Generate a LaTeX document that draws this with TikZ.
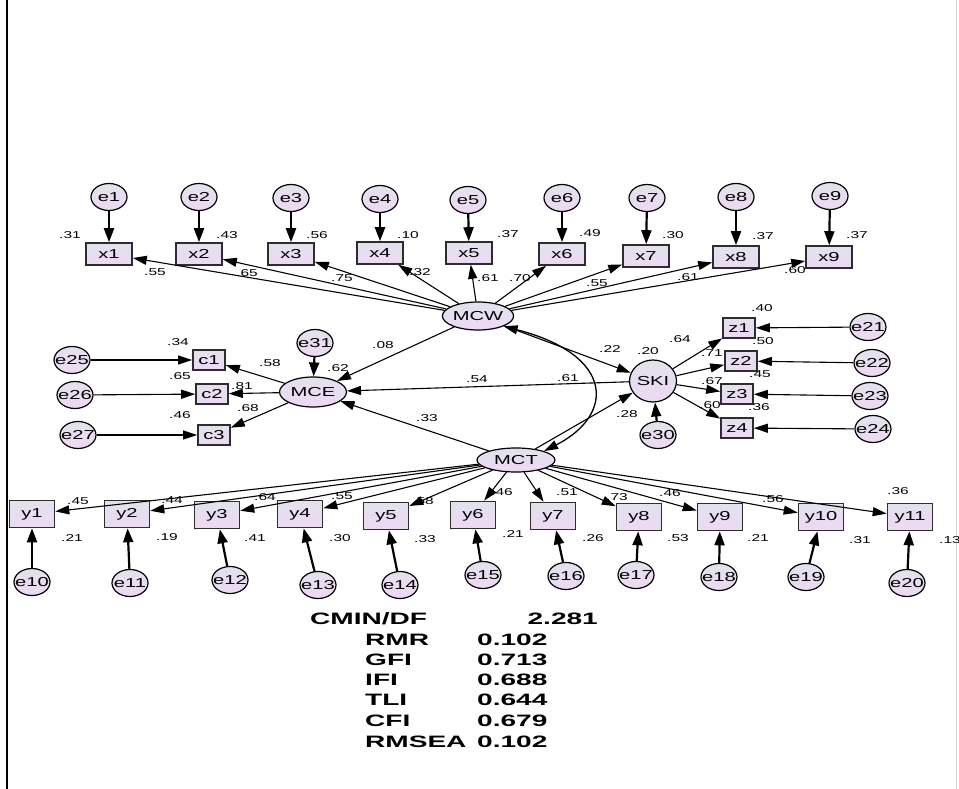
\documentclass[tikz,border=0pt]{standalone}
\usepackage{fontspec}
\setmainfont{Liberation Sans}[FakeStretch=1.55,BoldFeatures={FakeStretch=1.7}]
\usetikzlibrary{arrows.meta, positioning, shapes.geometric}
\usepackage{xcolor}
\definecolor{shadetop}{RGB}{226,226,236}
\definecolor{shadebot}{RGB}{238,216,244}
\definecolor{rimgray}{RGB}{45,45,45}

\begin{document}
\begin{tikzpicture}[x=1pt, y=-1pt,
  every node/.style={font=\fontsize{13}{15}\selectfont, inner sep=0pt},
  obs/.style={draw=rimgray, line width=1.6pt, top color=shadetop, bottom color=shadebot, minimum width=46pt, minimum height=22pt},
  obsy/.style={obs, minimum width=45pt, minimum height=27pt},
  obss/.style={obs, minimum width=32pt, minimum height=20pt},
  lat/.style={ellipse, draw, line width=1.2pt, top color=shadetop, bottom color=shadebot},
  err/.style={lat, minimum width=36pt, minimum height=27pt,
    execute at begin node={\hbox to 0pt\bgroup\hss}, execute at end node={\hss\egroup}},
  load/.style={-{Triangle[length=14pt,width=9pt]}, line width=1.1pt},
  errarr/.style={-{Triangle[length=14pt,width=10pt]}, line width=2.2pt},
  cov/.style={{Triangle[length=14pt,width=9pt]}-{Triangle[length=14pt,width=9pt]}, line width=1.3pt},
  lbl/.style={font=\fontsize{10}{12}\selectfont},
  fit/.style={font=\fontsize{16.5}{20}\selectfont\bfseries}]
\useasboundingbox (0,0) rectangle (959,789);
\draw[line width=1.4pt] (7,0) -- (7,789);
\draw[gray!35, line width=0.8pt] (956,0) -- (956,789);

% latent variables
\node[lat, minimum width=67pt, minimum height=28pt] (MCW) at (478,316) {MCW};
\node[lat, minimum width=67pt, minimum height=30pt] (MCE) at (313,392) {MCE};
\node[lat, minimum width=47pt, minimum height=42pt] (SKI) at (653,381) {SKI};
\node[lat, minimum width=78pt, minimum height=24pt] (MCT) at (516,460) {MCT};

% MCW indicators
\node[err] (e1) at (109,197) {e1};
\node[err] (e2) at (199,197) {e2};
\node[err] (e3) at (291,198) {e3};
\node[err] (e4) at (380,199) {e4};
\node[err] (e5) at (468,200) {e5};
\node[err] (e6) at (562,198) {e6};
\node[err] (e7) at (647,198) {e7};
\node[err] (e8) at (736,197) {e8};
\node[err] (e9) at (830,196) {e9};
\node[obs] (x1) at (109,254) {x1};
\node[obs] (x2) at (199,254) {x2};
\node[obs] (x3) at (291,254) {x3};
\node[obs] (x4) at (380,253) {x4};
\node[obs] (x5) at (469,253) {x5};
\node[obs] (x6) at (562,254) {x6};
\node[obs] (x7) at (646,256) {x7};
\node[obs] (x8) at (736,257) {x8};
\node[obs] (x9) at (829,257) {x9};

% MCE indicators
\node[err] (e31) at (315,343) {e31};
\node[obss] (c1) at (209,360) {c1};
\node[obss] (c2) at (212,394) {c2};
\node[obss] (c3) at (214,435) {c3};
\node[err] (e25) at (72,360) {e25};
\node[err] (e26) at (75,395) {e26};
\node[err] (e27) at (78,435) {e27};

% SKI indicators
\node[err] (e30) at (658,435) {e30};
\node[obss] (z1) at (739,328) {z1};
\node[obss] (z2) at (741,361) {z2};
\node[obss] (z3) at (737,394) {z3};
\node[obss] (z4) at (737,428) {z4};
\node[err] (e21) at (868,327) {e21};
\node[err] (e22) at (872,363) {e22};
\node[err] (e23) at (870,396) {e23};
\node[err] (e24) at (873,429) {e24};

% MCT indicators
\node[obsy] (y1) at (32,514) {y1};
\node[obsy] (y2) at (127,514) {y2};
\node[obsy] (y3) at (217,515) {y3};
\node[obsy] (y4) at (300,514) {y4};
\node[obsy] (y5) at (386,516) {y5};
\node[obsy] (y6) at (473,515) {y6};
\node[obsy] (y7) at (553,516) {y7};
\node[obsy] (y8) at (639,517) {y8};
\node[obsy] (y9) at (720,517) {y9};
\node[obsy] (y10) at (821,517) {y10};
\node[obsy] (y11) at (910,517) {y11};
\node[err] (e10) at (32,582) {e10};
\node[err] (e11) at (130,583) {e11};
\node[err] (e12) at (230,580) {e12};
\node[err] (e13) at (318,585) {e13};
\node[err] (e14) at (400,585) {e14};
\node[err] (e15) at (483,575) {e15};
\node[err] (e16) at (566,576) {e16};
\node[err] (e17) at (636,575) {e17};
\node[err] (e18) at (719,577) {e18};
\node[err] (e19) at (806,577) {e19};
\node[err] (e20) at (907,583) {e20};

% paths
\draw[errarr] (e1) -- (x1);
\draw[errarr] (e2) -- (x2);
\draw[errarr] (e3) -- (x3);
\draw[errarr] (e4) -- (x4);
\draw[errarr] (e5) -- (x5);
\draw[errarr] (e6) -- (x6);
\draw[errarr] (e7) -- (x7);
\draw[errarr] (e8) -- (x8);
\draw[errarr] (e9) -- (x9);
\draw[load] (MCW) -- (x1);
\draw[load] (MCW) -- (x2);
\draw[load] (MCW) -- (x3);
\draw[load] (MCW) -- (x4);
\draw[load] (MCW) -- (x5);
\draw[load] (MCW) -- (x6);
\draw[load] (MCW) -- (x7);
\draw[load] (MCW) -- (x8);
\draw[load] (MCW) -- (x9);

\draw[errarr] (e31) -- (MCE);
\draw[load] (MCW) -- (MCE);
\draw[load] (SKI) -- (MCE);
\draw[load] (MCT) -- (MCE);
\draw[load] (MCE) -- (c1);
\draw[load] (MCE) -- (c2);
\draw[load] (MCE) -- (c3);
\draw[load] (e25) -- (c1);
\draw[load] (e26) -- (c2);
\draw[load] (e27) -- (c3);

\draw[load] (MCW) -- (SKI);
\draw[load] (MCT) -- (SKI);
\draw[errarr] (e30) -- (SKI);
\draw[load] (SKI) -- (z1);
\draw[load] (SKI) -- (z2);
\draw[load] (SKI) -- (z3);
\draw[load] (SKI) -- (z4);
\draw[load] (e21) -- (z1);
\draw[load] (e22) -- (z2);
\draw[load] (e23) -- (z3);
\draw[load] (e24) -- (z4);
\draw[cov] (MCW.south east) .. controls (615,355) and (615,415) .. (MCT.north east);

\draw[load] (MCT) -- (y1);
\draw[load] (MCT) -- (y2);
\draw[load] (MCT) -- (y3);
\draw[load] (MCT) -- (y4);
\draw[load] (MCT) -- (y5);
\draw[load] (MCT) -- (y6);
\draw[load] (MCT) -- (y7);
\draw[load] (MCT) -- (y8);
\draw[load] (MCT) -- (y9);
\draw[load] (MCT) -- (y10);
\draw[load] (MCT) -- (y11);
\draw[errarr] (e10) -- (y1);
\draw[errarr] (e11) -- (y2);
\draw[errarr] (e12) -- (y3);
\draw[errarr] (e13) -- (y4);
\draw[errarr] (e14) -- (y5);
\draw[errarr] (e15) -- (y6);
\draw[errarr] (e16) -- (y7);
\draw[errarr] (e17) -- (y8);
\draw[errarr] (e18) -- (y9);
\draw[errarr] (e19) -- (y10);
\draw[errarr] (e20) -- (y11);

% estimates
\node[lbl] (rx1) at (70,235) {.31};
\node[lbl] (rx2) at (227,235) {.43};
\node[lbl] (rx3) at (317,235) {.56};
\node[lbl] (rx4) at (408,235) {.10};
\node[lbl] (rx5) at (508,234) {.37};
\node[lbl] (rx6) at (590,233) {.49};
\node[lbl] (rx7) at (673,235) {.30};
\node[lbl] (rx8) at (763,236) {.37};
\node[lbl] (rx9) at (857,235) {.37};
\node[lbl] (bx1) at (155,272) {.55};
\node[lbl] (bx2) at (247,273) {.65};
\node[lbl] (bx3) at (342,278) {.75};
\node[lbl] (bx4) at (420,272) {.32};
\node[lbl] (bx5) at (488,278) {.61};
\node[lbl] (bx6) at (520,278) {.70};
\node[lbl] (bx7) at (597,283) {.55};
\node[lbl] (bx8) at (688,277) {.61};
\node[lbl] (bx9) at (795,270) {.60};

\node[lbl] (rc1) at (178,342) {.34};
\node[lbl] (rc2) at (180,376) {.65};
\node[lbl] (rc3) at (180,415) {.46};
\node[lbl] (bc1) at (270,363) {.58};
\node[lbl] (bc2) at (242,386) {.81};
\node[lbl] (bc3) at (248,408) {.68};
\node[lbl] (rmce) at (338,368) {.62};
\node[lbl] (bwe) at (383,345) {.08};
\node[lbl] (bse) at (477,379) {.54};
\node[lbl] (bte) at (427,418) {.33};
\node[lbl] (cwt) at (568,378) {.61};
\node[lbl] (bws) at (610,349) {.22};
\node[lbl] (rski) at (648,351) {.20};
\node[lbl] (bts) at (627,414) {.28};
\node[lbl] (bz1) at (680,339) {.64};
\node[lbl] (bz2) at (712,353) {.71};
\node[lbl] (bz3) at (712,381) {.67};
\node[lbl] (bz4) at (710,405) {.60};
\node[lbl] (rz1) at (762,308) {.40};
\node[lbl] (rz2) at (763,341) {.50};
\node[lbl] (rz3) at (760,374) {.45};
\node[lbl] (rz4) at (759,407) {.36};

\node[lbl] (by1) at (78,501) {.45};
\node[lbl] (by2) at (172,500) {.44};
\node[lbl] (by3) at (265,497) {.64};
\node[lbl] (by4) at (342,496) {.55};
\node[lbl] (by5) at (423,501) {.58};
\node[lbl] (by6) at (502,492) {.46};
\node[lbl] (by7) at (567,492) {.51};
\node[lbl] (by8) at (617,497) {.73};
\node[lbl] (by9) at (670,493) {.46};
\node[lbl] (by10) at (773,499) {.56};
\node[lbl] (by11) at (898,491) {.36};
\node[lbl] (ry1) at (72,538) {.21};
\node[lbl] (ry2) at (167,537) {.19};
\node[lbl] (ry3) at (255,538) {.41};
\node[lbl] (ry4) at (340,538) {.30};
\node[lbl] (ry5) at (425,539) {.33};
\node[lbl] (ry6) at (513,534) {.21};
\node[lbl] (ry7) at (593,538) {.26};
\node[lbl] (ry8) at (678,538) {.53};
\node[lbl] (ry9) at (758,538) {.21};
\node[lbl] (ry10) at (860,540) {.31};
\node[lbl] (ry11) at (950,540) {.13};

% fit indices
\node[fit, anchor=west] (cmin) at (310,619) {CMIN/DF};
\node[fit, anchor=east] (cminv) at (598,619) {2.281};
\node[fit, anchor=west] (rmr) at (365,640) {RMR};
\node[fit, anchor=west] (rmrv) at (477,640) {0.102};
\node[fit, anchor=west] (gfi) at (365,660) {GFI};
\node[fit, anchor=west] (gfiv) at (477,660) {0.713};
\node[fit, anchor=west] (ifi) at (365,680) {IFI};
\node[fit, anchor=west] (ifiv) at (477,680) {0.688};
\node[fit, anchor=west] (tli) at (365,700) {TLI};
\node[fit, anchor=west] (tliv) at (477,700) {0.644};
\node[fit, anchor=west] (cfi) at (365,721) {CFI};
\node[fit, anchor=west] (cfiv) at (477,721) {0.679};
\node[fit, anchor=west] (rmsea) at (365,742) {RMSEA};
\node[fit, anchor=west] (rmseav) at (477,742) {0.102};
\end{tikzpicture}
\end{document}
